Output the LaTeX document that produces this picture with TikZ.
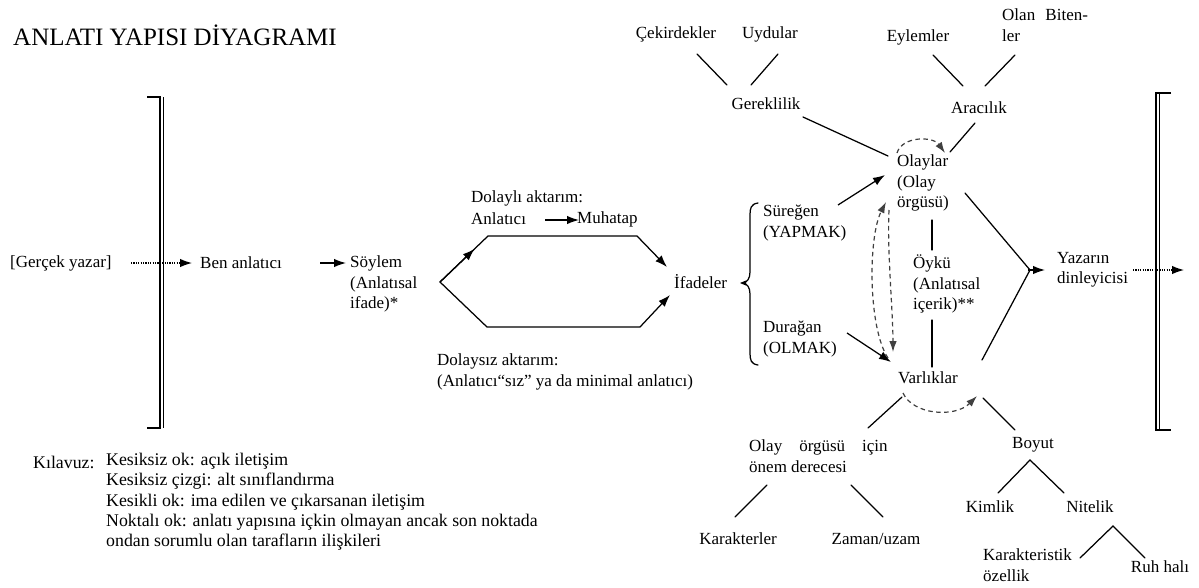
\documentclass[tikz,border=0pt]{standalone}
\usepackage{fontspec}
\setmainfont{Liberation Serif}
\usetikzlibrary{arrows.meta,calc}
\newcommand{\bodyf}{\fontsize{17}{20.5}\selectfont}
\newcommand{\legf}{\fontsize{17.8}{20.3}\selectfont}
\newcommand{\titlef}{\fontsize{25}{29}\selectfont}
\begin{document}
\begin{tikzpicture}[x=1pt,y=-1pt,
  txt/.style={inner sep=0pt, font=\bodyf, align=left},
  ln/.style={line width=1.25pt, line cap=round},
  arr/.style={line width=1.25pt, -{Latex[length=12pt,width=8.5pt]}},
  darr/.style={line width=1.2pt, black!75, dash pattern=on 4.5pt off 3.5pt, -{Latex[length=11pt,width=7.5pt]}},
  dotarr/.style={line width=1.2pt, dash pattern=on 1.2pt off 1.2pt, -{Latex[length=12pt,width=8.5pt]}},
  brk/.style={line width=1.1pt}]
\fill[white] (0,0) rectangle (1199,587);
\useasboundingbox (0,0) rectangle (1199,587);

% title
\node[inner sep=0pt, font=\titlef, anchor=west] (title) at (13,35) {ANLATI YAPISI DİYAGRAMI};

% brackets
\draw[brk] (147,97) -- (160,97) -- (160,428) -- (147,428);
\draw[line width=0.8pt] (163.5,97) -- (163.5,428);
\draw[brk] (1171,93) -- (1156,93) -- (1156,430) -- (1171,430);
\draw[line width=0.8pt] (1159.5,93) -- (1159.5,430);

% nodes
\node[txt, anchor=west] (gercek) at (10,263) {[Gerçek yazar]};
\node[txt, anchor=west] (ben) at (200,263) {Ben anlatıcı};
\node[txt, anchor=west] (soylem) at (350,284) {Söylem\\(Anlatısal\\ifade)*};
\node[txt, anchor=west] (dolayli) at (471,198) {Dolaylı aktarım:};
\node[txt, anchor=west] (anlatici) at (471,219) {Anlatıcı};
\node[txt, anchor=west] (muhatap) at (577,219) {Muhatap};
\node[txt, anchor=west] (dolaysiz) at (437,372) {Dolaysız aktarım:\\(Anlatıcı“sız” ya da minimal anlatıcı)};
\node[txt, anchor=west] (ifadeler) at (674,282) {İfadeler};
\node[txt, anchor=west] (sureg) at (763,223) {Süreğen\\(YAPMAK)};
\node[txt, anchor=west] (durag) at (763,339) {Durağan\\(OLMAK)};
\node[txt, anchor=west] (olaylar) at (897,183) {Olaylar\\(Olay\\örgüsü)};
\node[txt, anchor=west] (oyku) at (913,284) {Öykü\\(Anlatısal\\içerik)**};
\node[txt, anchor=west] (varlik) at (898,378) {Varlıklar};
\node[txt, anchor=west] (yazar) at (1057,270) {Yazarın\\dinleyicisi};
\node[txt] (cekir) at (676,34) {Çekirdekler};
\node[txt] (uydu) at (770,34) {Uydular};
\node[txt] (gerek) at (766,104) {Gereklilik};
\node[txt] (eylem) at (918,37) {Eylemler};
\node[txt, anchor=west] (olan) at (1002,25) {Olan\hspace{0.6em}Biten-\\ler};
\node[txt] (aracilik) at (979,108) {Aracılık};
\node[txt, anchor=west] (onem) at (749,456) {Olay\hspace{1em}örgüsü\hspace{1em}için\\önem derecesi};
\node[txt] (karakterler) at (738,539) {Karakterler};
\node[txt] (zaman) at (876,539) {Zaman/uzam};
\node[txt] (boyut) at (1033,445) {Boyut};
\node[txt] (kimlik) at (990,507) {Kimlik};
\node[txt] (nitelik) at (1090,507) {Nitelik};
\node[txt, anchor=west] (karakt) at (983,565) {Karakteristik\\özellik};
\node[txt] (ruh) at (1160,567) {Ruh halı};
\node[txt, font=\legf, anchor=west] (kilavuz) at (33,462) {Kılavuz:};
\node[txt, font=\legf, anchor=west] (legend) at (106,502) {Kesiksiz ok: açık iletişim\\Kesiksiz çizgi: alt sınıflandırma\\Kesikli ok: ima edilen ve çıkarsanan iletişim\\Noktalı ok: anlatı yapısına içkin olmayan ancak son noktada\\ondan sorumlu olan tarafların ilişkileri};

% left chain
\draw[dotarr] ([shift={(121,0)}]gercek.west) -- ([shift={(-8,0)}]ben.west);
\draw[arr] ([shift={(120,0)}]ben.west) -- ([shift={(-4,-21)}]soylem.west);

% hexagon
\coordinate (hL) at (440,282);
\coordinate (hUL) at (488,236);
\coordinate (hUR) at (637,236);
\coordinate (hLL) at (487,327);
\coordinate (hLR) at (640,327);
\draw[ln] (hUR) -- (hUL) -- (hL) -- (hLL) -- (hLR);
\draw[arr] (hL) -- ($(hL)!0.72!(hUL)$);
\draw[arr] (hUR) -- ([shift={(-7,-15)}]ifadeler.west);
\draw[arr] (hLR) -- ([shift={(-4,13)}]ifadeler.west);
\draw[arr] ([shift={(74,1)}]anlatici.west) -- ([shift={(2,1)}]muhatap.west);

% brace
\draw[ln] (758,203) .. controls (751,204) and (750,208) .. (750,215) -- (750,272)
  .. controls (750,279) and (747,282) .. (743,283)
  .. controls (747,284) and (750,287) .. (750,294) -- (750,353)
  .. controls (750,360) and (751,364) .. (758,365);
\fill (740,283) -- (746,280.5) -- (746,285.5) -- cycle;

% to Olaylar / Varliklar
\draw[arr] ([shift={(75,-18)}]sureg.west) -- ([shift={(-12,-8)}]olaylar.west);
\draw[arr] ([shift={(84,-6)}]durag.west) -- ([shift={(-7,-16)}]varlik.west);
\draw[ln] ([shift={(37,13)}]gerek.center) -- ([shift={(-9,-27)}]olaylar.west);
\draw[ln] ([shift={(-4,15)}]aracilik.center) -- ([shift={(53,-31)}]olaylar.west);
\draw[ln] ([shift={(21,20)}]cekir.center) -- ([shift={(-39,-19)}]gerek.center);
\draw[ln] ([shift={(8,20)}]uydu.center) -- ([shift={(-15,-19)}]gerek.center);
\draw[ln] ([shift={(15,18)}]eylem.center) -- ([shift={(-16,-22)}]aracilik.center);
\draw[ln] ([shift={(13,30)}]olan.west) -- ([shift={(6,-22)}]aracilik.center);

% Oyku lines
\draw[ln] ([shift={(35,37)}]olaylar.west) -- ([shift={(19,-34)}]oyku.west);
\draw[ln] ([shift={(19,36)}]oyku.west) -- ([shift={(34,-11)}]varlik.west);

% convergence to Yazarin dinleyicisi
\coordinate (apex) at (1030,270);
\draw[ln] ([shift={(68,10)}]olaylar.west) -- (apex) -- ([shift={(84,-18)}]varlik.west);
\draw[arr] ([shift={(-2,0)}]apex) -- ([shift={(-12,0)}]yazar.west);
\coordinate (rend) at (1184,270);
\draw[dotarr] ([shift={(76,0)}]yazar.west) -- (rend);

% dashed arrows
\draw[darr] ([shift={(0,-30)}]olaylar.west) .. controls +(5,-17) and +(-12,-17) .. ([shift={(48,-30)}]olaylar.west);
\draw[darr] ([shift={(-10,-20)}]varlik.west) .. controls +(-20,-30) and +(-18,35) .. ([shift={(-11,19)}]olaylar.west);
\draw[darr] ([shift={(-8,27)}]olaylar.west) .. controls +(-2,40) and +(0,-40) .. ([shift={(-5,-26)}]varlik.west);
\draw[darr] ([shift={(5,15)}]varlik.west) .. controls +(10,22) and +(-22,22) .. ([shift={(79,18)}]varlik.west);

% lower trees
\draw[ln] ([shift={(4,19)}]varlik.west) -- ([shift={(119,-28)}]onem.west);
\draw[ln] ([shift={(85,20)}]varlik.west) -- ([shift={(-18,-15)}]boyut.center);
\draw[ln] ([shift={(18,29)}]onem.west) -- ([shift={(-3,-22)}]karakterler.center);
\draw[ln] ([shift={(102,29)}]onem.west) -- ([shift={(7,-22)}]zaman.center);
\draw[ln] ([shift={(8,-14)}]kimlik.center) -- ([shift={(-3,15)}]boyut.center) -- ([shift={(-26,-14)}]nitelik.center);
\draw[ln] ([shift={(97,-7)}]karakt.west) -- ([shift={(23,19)}]nitelik.center) -- ([shift={(-15,-9)}]ruh.center);
\end{tikzpicture}
\end{document}
